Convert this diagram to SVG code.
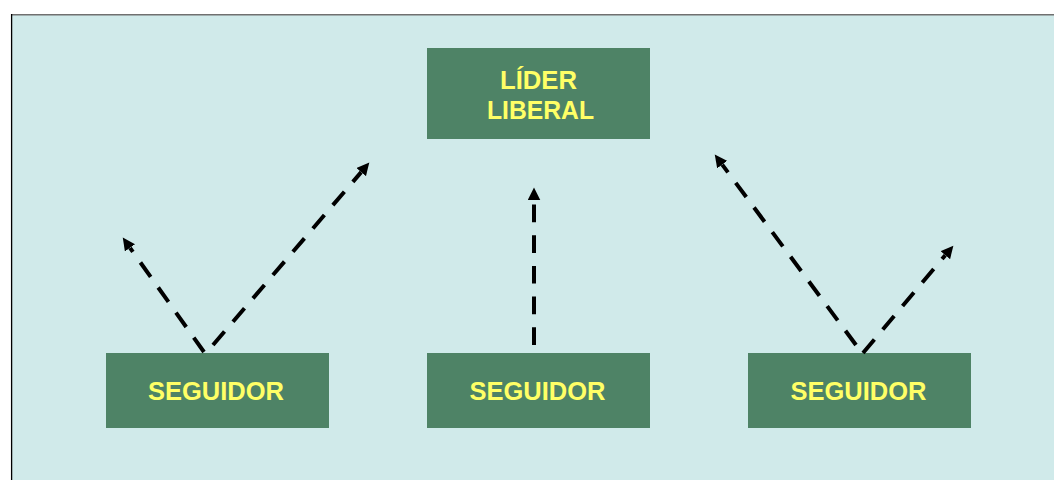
<svg xmlns="http://www.w3.org/2000/svg" width="1054" height="480" viewBox="0 0 1054 480">
<defs>
<style>
.box{fill:#4E8366;}
.lbl{font-family:"Liberation Sans",Arial,sans-serif;font-weight:bold;font-size:26.5px;fill:#FFFF66;text-anchor:middle;}
.arr{stroke:#000;stroke-width:4;stroke-dasharray:17.7 13;fill:none;marker-end:url(#ah);}
</style>
<marker id="ah" markerUnits="userSpaceOnUse" markerWidth="13" markerHeight="13" refX="0" refY="6.25" orient="auto" viewBox="0 0 13 12.5">
<path d="M0,0 L12.5,6.25 L0,12.5 Z" fill="#000"/>
</marker>
</defs>
<rect x="11" y="14" width="1043" height="466" fill="#D0EAEA"/>
<line x1="11" y1="14.8" x2="1054" y2="14.8" stroke="#707070" stroke-width="1.6"/>
<line x1="11.6" y1="14" x2="11.6" y2="480" stroke="#000" stroke-width="1.3"/>
<g id="lider">
<rect class="box" x="427" y="48" width="223" height="91"/>
<text class="lbl" x="538.5" y="89.3" textLength="77" lengthAdjust="spacingAndGlyphs">LÍDER</text>
<text class="lbl" x="540.5" y="119.3" textLength="107" lengthAdjust="spacingAndGlyphs">LIBERAL</text>
</g>
<g id="seguidor1">
<rect class="box" x="106" y="353" width="223" height="75"/>
<text class="lbl" x="216" y="400" textLength="136" lengthAdjust="spacingAndGlyphs">SEGUIDOR</text>
</g>
<g id="seguidor2">
<rect class="box" x="427" y="353" width="223" height="75"/>
<text class="lbl" x="537.5" y="400" textLength="136" lengthAdjust="spacingAndGlyphs">SEGUIDOR</text>
</g>
<g id="seguidor3">
<rect class="box" x="748" y="353" width="223" height="75"/>
<text class="lbl" x="858.5" y="400" textLength="136" lengthAdjust="spacingAndGlyphs">SEGUIDOR</text>
</g>
<g id="connectors">
<line class="arr" x1="204" y1="352" x2="130" y2="247.8"/>
<line class="arr" x1="213" y1="345" x2="361.2" y2="172.1"/>
<line class="arr" x1="534" y1="345" x2="534" y2="200"/>
<line class="arr" x1="856" y1="345" x2="722.2" y2="164.6"/>
<line class="arr" x1="863" y1="353" x2="945.3" y2="255.2"/>
</g>
</svg>
